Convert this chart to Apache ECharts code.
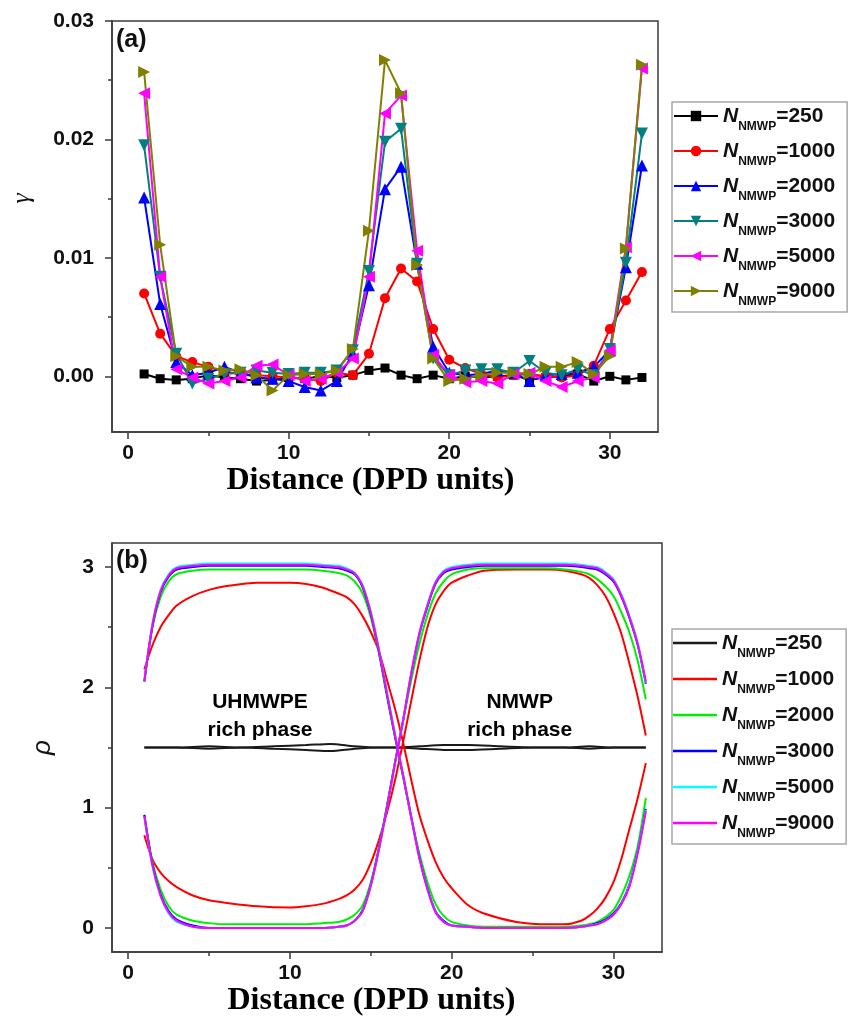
<!DOCTYPE html>
<html>
<head>
<meta charset="utf-8">
<script src="https://cdn.jsdelivr.net/npm/echarts@6/dist/echarts.min.js"></script>
<style>
  html, body { margin: 0; padding: 0; background: #ffffff; }
  #chart { width: 854px; height: 1019px; }
</style>
</head>
<body>
<div id="chart"></div>
<script>
// ---------- (a) order parameter gamma vs distance ----------
const distA = [1, 2, 3, 4, 5, 6, 7, 8, 9, 10, 11, 12, 13, 14, 15, 16, 17, 18, 19, 20, 21, 22, 23, 24, 25, 26, 27, 28, 29, 30, 31, 32];
const gamma250  = [0.0002, -0.0002, -0.0003, -0.0002, 0.0001, -0.0001, -0.0002, -0.0004, -0.0003, -0.0001, -0.0002, 0.0000, -0.0001, 0.0001, 0.0005, 0.0007, 0.0001, -0.0002, 0.0001, -0.0002, 0.0000, -0.0001, 0.0000, 0.0001, -0.0003, -0.0001, 0.0000, 0.0002, -0.0004, 0.0000, -0.0003, -0.0001];
const gamma1000 = [0.0070, 0.0036, 0.0017, 0.0012, 0.0008, 0.0004, 0.0002, 0.0001, 0.0000, -0.0001, -0.0002, -0.0004, 0.0003, 0.0001, 0.0019, 0.0066, 0.0091, 0.0080, 0.0040, 0.0014, 0.0007, 0.0002, -0.0001, 0.0001, 0.0002, 0.0000, -0.0001, 0.0001, 0.0009, 0.0040, 0.0064, 0.0088];
const gamma2000 = [0.0151, 0.0061, 0.0012, 0.0001, 0.0003, 0.0008, 0.0003, -0.0001, -0.0002, -0.0004, -0.0009, -0.0012, -0.0004, 0.0019, 0.0077, 0.0158, 0.0177, 0.0095, 0.0025, 0.0003, 0.0001, 0.0002, 0.0005, 0.0003, -0.0004, 0.0001, 0.0002, 0.0003, 0.0008, 0.0022, 0.0092, 0.0178];
const gamma3000 = [0.0195, 0.0084, 0.0019, -0.0006, -0.0002, 0.0002, 0.0003, 0.0005, 0.0003, 0.0002, 0.0003, 0.0003, 0.0005, 0.0022, 0.0089, 0.0198, 0.0209, 0.0095, 0.0015, 0.0001, 0.0005, 0.0006, 0.0006, 0.0003, 0.0013, 0.0003, 0.0001, 0.0006, 0.0001, 0.0023, 0.0096, 0.0205];
const gamma5000 = [0.0239, 0.0084, 0.0006, -0.0001, -0.0006, -0.0004, -0.0001, 0.0009, 0.0010, 0.0001, -0.0004, -0.0002, 0.0003, 0.0015, 0.0084, 0.0222, 0.0237, 0.0106, 0.0018, 0.0001, -0.0005, -0.0004, -0.0006, 0.0002, 0.0003, -0.0004, -0.0009, -0.0004, -0.0001, 0.0022, 0.0109, 0.0260];
const gamma9000 = [0.0257, 0.0111, 0.0017, 0.0008, 0.0008, 0.0005, 0.0006, 0.0001, -0.0012, 0.0001, 0.0002, 0.0002, 0.0005, 0.0023, 0.0123, 0.0267, 0.0239, 0.0094, 0.0015, -0.0004, -0.0002, 0.0001, 0.0003, 0.0003, 0.0002, 0.0008, 0.0008, 0.0012, 0.0002, 0.0017, 0.0108, 0.0263];

// ---------- (b) density profiles rho vs distance ----------
// U = UHMWPE-rich on the left, N = NMWP-rich on the right
const distB = [1, 1.5, 2, 2.5, 3, 4, 5, 6, 8, 10, 11, 12, 13, 13.5, 14, 14.5, 15, 15.5, 16, 16.5, 17, 17.5, 18, 18.5, 19, 19.5, 20, 21, 22, 24, 26, 27, 28, 28.5, 29, 29.5, 30, 30.5, 31, 31.5, 32];
const rho1000U = [2.15, 2.35, 2.50, 2.60, 2.68, 2.76, 2.81, 2.84, 2.87, 2.87, 2.86, 2.83, 2.78, 2.75, 2.69, 2.59, 2.46, 2.30, 2.06, 1.82, 1.54, 1.23, 0.94, 0.73, 0.55, 0.42, 0.33, 0.19, 0.12, 0.05, 0.03, 0.03, 0.06, 0.10, 0.16, 0.25, 0.38, 0.58, 0.83, 1.08, 1.37];
const rho1000N = [0.77, 0.57, 0.46, 0.39, 0.34, 0.27, 0.23, 0.21, 0.18, 0.17, 0.18, 0.20, 0.24, 0.27, 0.32, 0.40, 0.54, 0.73, 0.96, 1.23, 1.55, 1.89, 2.22, 2.50, 2.69, 2.80, 2.87, 2.93, 2.97, 2.98, 2.98, 2.97, 2.94, 2.91, 2.85, 2.76, 2.62, 2.44, 2.19, 1.92, 1.60];
const rho2000U = [2.05, 2.50, 2.75, 2.88, 2.94, 2.97, 2.98, 2.98, 2.98, 2.98, 2.98, 2.97, 2.95, 2.93, 2.88, 2.78, 2.58, 2.28, 1.92, 1.58, 1.25, 0.92, 0.62, 0.38, 0.20, 0.10, 0.05, 0.02, 0.01, 0.01, 0.01, 0.01, 0.02, 0.03, 0.05, 0.09, 0.15, 0.27, 0.44, 0.68, 1.08];
const rho2000N = [0.94, 0.55, 0.32, 0.18, 0.11, 0.06, 0.04, 0.03, 0.03, 0.03, 0.03, 0.04, 0.05, 0.07, 0.11, 0.19, 0.38, 0.67, 1.02, 1.38, 1.72, 2.06, 2.36, 2.60, 2.78, 2.88, 2.94, 2.98, 2.99, 2.99, 2.99, 2.98, 2.96, 2.94, 2.90, 2.84, 2.76, 2.62, 2.45, 2.22, 1.90];
const rho3000U = [2.05, 2.51, 2.79, 2.92, 2.98, 3.00, 3.01, 3.01, 3.01, 3.01, 3.01, 3.00, 2.99, 2.97, 2.94, 2.83, 2.61, 2.30, 1.94, 1.59, 1.26, 0.92, 0.59, 0.33, 0.14, 0.06, 0.02, 0.01, 0.00, 0.00, 0.00, 0.00, 0.01, 0.02, 0.04, 0.07, 0.12, 0.21, 0.37, 0.64, 0.99];
const rho3000N = [0.94, 0.53, 0.28, 0.14, 0.07, 0.02, 0.00, 0.00, 0.00, 0.00, 0.00, 0.00, 0.01, 0.02, 0.06, 0.15, 0.36, 0.66, 1.01, 1.38, 1.73, 2.11, 2.44, 2.67, 2.86, 2.95, 2.98, 3.00, 3.01, 3.01, 3.01, 3.01, 3.00, 2.99, 2.98, 2.94, 2.88, 2.75, 2.57, 2.35, 2.03];
const rho5000U = [2.06, 2.53, 2.81, 2.94, 3.00, 3.02, 3.03, 3.03, 3.03, 3.03, 3.03, 3.02, 3.01, 2.99, 2.95, 2.85, 2.63, 2.32, 1.96, 1.61, 1.27, 0.92, 0.58, 0.32, 0.13, 0.05, 0.02, 0.01, 0.00, 0.00, 0.00, 0.00, 0.01, 0.02, 0.03, 0.06, 0.11, 0.20, 0.36, 0.63, 0.98];
const rho5000N = [0.92, 0.51, 0.26, 0.12, 0.05, 0.01, 0.00, 0.00, 0.00, 0.00, 0.00, 0.00, 0.01, 0.02, 0.06, 0.14, 0.35, 0.65, 1.00, 1.37, 1.73, 2.12, 2.45, 2.69, 2.88, 2.97, 3.00, 3.02, 3.03, 3.03, 3.03, 3.03, 3.02, 3.01, 3.00, 2.96, 2.90, 2.77, 2.59, 2.37, 2.04];
const rho9000U = [2.05, 2.52, 2.80, 2.93, 2.99, 3.01, 3.02, 3.02, 3.02, 3.02, 3.02, 3.01, 3.00, 2.98, 2.95, 2.84, 2.62, 2.31, 1.95, 1.60, 1.27, 0.92, 0.58, 0.32, 0.13, 0.05, 0.02, 0.01, 0.00, 0.00, 0.00, 0.00, 0.01, 0.02, 0.03, 0.06, 0.11, 0.20, 0.35, 0.62, 0.97];
const rho9000N = [0.93, 0.52, 0.27, 0.13, 0.06, 0.01, 0.00, 0.00, 0.00, 0.00, 0.00, 0.00, 0.01, 0.02, 0.06, 0.14, 0.35, 0.65, 1.00, 1.37, 1.73, 2.12, 2.45, 2.68, 2.87, 2.96, 2.99, 3.01, 3.02, 3.02, 3.02, 3.02, 3.01, 3.00, 2.99, 2.95, 2.89, 2.76, 2.58, 2.36, 2.05];
// N = 250 stays mixed: two nearly flat profiles around 1.5
const dist250 = [1, 3, 5, 7, 9, 11, 12.5, 14, 15.5, 16.7, 18, 19.5, 21, 23, 25, 27, 28.5, 30, 31, 32];
const rho250U = [1.50, 1.50, 1.51, 1.50, 1.51, 1.52, 1.53, 1.51, 1.50, 1.50, 1.51, 1.52, 1.52, 1.51, 1.50, 1.50, 1.51, 1.50, 1.50, 1.50];
const rho250N = [1.50, 1.50, 1.49, 1.50, 1.49, 1.48, 1.47, 1.49, 1.50, 1.50, 1.49, 1.48, 1.48, 1.49, 1.50, 1.50, 1.49, 1.50, 1.50, 1.50];

// ---------- tick values ----------
const ticksX = [0, 10, 20, 30];
const minorX = [5, 15, 25];
const ticksGamma = [0, 0.01, 0.02, 0.03];
const minorGamma = [0.005, 0.015, 0.025];
const ticksRho = [0, 1, 2, 3];
const minorRho = [0.5, 1.5, 2.5];

// ---------- phase labels in panel (b) ----------
const phaseLabels = [
  { x: 8.15, y: 1.76, text: 'UHMWPE\nrich phase' },
  { x: 24.2, y: 1.76, text: 'NMWP\nrich phase' }
];

const SANS = '"Liberation Sans", Arial, Helvetica, sans-serif';
const SERIF = '"Liberation Serif", "Times New Roman", serif';
const AXIS_COLOR = '#3a3a3a';

function pts(xs, ys) { return xs.map((x, i) => [x, ys[i]]); }

const styleA = [
  { n: '250',  ys: gamma250,  color: '#000000', symbol: 'rect',     size: 9,  rot: 0 },
  { n: '1000', ys: gamma1000, color: '#ff0000', symbol: 'circle',   size: 10, rot: 0 },
  { n: '2000', ys: gamma2000, color: '#0000ff', symbol: 'triangle', size: 12, rot: 0 },
  { n: '3000', ys: gamma3000, color: '#008080', symbol: 'triangle', size: 12, rot: 180 },
  { n: '5000', ys: gamma5000, color: '#ff00ff', symbol: 'triangle', size: 12, rot: 90 },
  { n: '9000', ys: gamma9000, color: '#808000', symbol: 'triangle', size: 12, rot: -90 }
];

const styleB = [
  { n: '250',  xs: dist250, u: rho250U,  v: rho250N,  color: '#1a1a1a' },
  { n: '1000', xs: distB,   u: rho1000U, v: rho1000N, color: '#ff0000' },
  { n: '2000', xs: distB,   u: rho2000U, v: rho2000N, color: '#00ee00' },
  { n: '3000', xs: distB,   u: rho3000U, v: rho3000N, color: '#0000ff' },
  { n: '5000', xs: distB,   u: rho5000U, v: rho5000N, color: '#00ffff' },
  { n: '9000', xs: distB,   u: rho9000U, v: rho9000N, color: '#ff00ff' }
];

const series = [];
styleA.forEach(s => {
  series.push({
    name: 'g-' + s.n, type: 'line', xAxisIndex: 0, yAxisIndex: 0,
    data: pts(distA, s.ys),
    symbol: s.symbol, symbolSize: s.size, symbolRotate: s.rot,
    lineStyle: { color: s.color, width: 2 },
    itemStyle: { color: s.color },
    silent: true, animation: false
  });
});
styleB.forEach(s => {
  [s.u, s.v].forEach(ys => {
    series.push({
      name: 'r-' + s.n, type: 'line', xAxisIndex: 2, yAxisIndex: 2,
      data: pts(s.xs, ys),
      symbol: 'none', smooth: 0.3,
      lineStyle: { color: s.color, width: 2 },
      itemStyle: { color: s.color },
      silent: true, animation: false
    });
  });
});
series.push({
  type: 'scatter', xAxisIndex: 2, yAxisIndex: 2,
  data: phaseLabels.map(p => ({ value: [p.x, p.y], label: { formatter: p.text } })),
  symbolSize: 0, silent: true, animation: false,
  itemStyle: { opacity: 1 },
  label: {
    show: true, position: 'inside', color: '#000000', opacity: 1, fontFamily: SANS,
    fontWeight: 'bold', fontSize: 21, lineHeight: 28, align: 'center'
  }
});

const legendRich = {
  n: { fontFamily: SANS, fontSize: 21, fontStyle: 'italic', fontWeight: 'bold', color: '#111', lineHeight: 24 },
  s: { fontFamily: SANS, fontSize: 12, fontWeight: 'bold', color: '#111', lineHeight: 13, padding: [17, 0, 0, 0], verticalAlign: 'top' },
  v: { fontFamily: SANS, fontSize: 21, fontWeight: 'bold', color: '#111', lineHeight: 24 }
};
const legendFormatter = name => '{n|N}{s|NMWP}{v|=' + name.split('-')[1] + '}';

function mainX(grid, name, padRight) {
  return {
    type: 'value', gridIndex: grid, min: -1, max: 33, position: 'bottom',
    axisLine: { show: true, onZero: false, lineStyle: { color: AXIS_COLOR, width: 1.5 } },
    axisTick: { show: true, inside: false, length: 7, customValues: ticksX, lineStyle: { color: AXIS_COLOR, width: 1.5 } },
    axisLabel: { show: true, customValues: ticksX, margin: 11, fontFamily: SANS, fontWeight: 'bold', fontSize: 21, color: '#111' },
    splitLine: { show: false },
    name: name, nameLocation: 'middle', nameGap: 33,
    nameTextStyle: { fontFamily: SERIF, fontWeight: 'bold', fontSize: 32, color: '#000', padding: [0, padRight, 0, 0] }
  };
}
function minorXAxis(grid) {
  return {
    type: 'value', gridIndex: grid, min: -1, max: 33, position: 'bottom',
    axisLine: { show: false, onZero: false },
    axisTick: { show: true, inside: false, length: 4, customValues: minorX, lineStyle: { color: AXIS_COLOR, width: 1.5 } },
    axisLabel: { show: false }, splitLine: { show: false }
  };
}
function minorYAxis(grid, min, max, vals) {
  return {
    type: 'value', gridIndex: grid, min: min, max: max, position: 'left',
    axisLine: { show: false, onZero: false },
    axisTick: { show: true, inside: false, length: 4, customValues: vals, lineStyle: { color: AXIS_COLOR, width: 1.5 } },
    axisLabel: { show: false }, splitLine: { show: false }
  };
}

const option = {
  backgroundColor: '#ffffff',
  animation: false,
  grid: [
    { left: 112, top: 21, width: 546, height: 411, show: true, borderColor: AXIS_COLOR, borderWidth: 1.5, backgroundColor: 'transparent' },
    { left: 112, top: 543, width: 550, height: 409, show: true, borderColor: AXIS_COLOR, borderWidth: 1.5, backgroundColor: 'transparent' }
  ],
  xAxis: [
    mainX(0, 'Distance (DPD units)', 29),
    minorXAxis(0),
    mainX(1, 'Distance (DPD units)', 31),
    minorXAxis(1)
  ],
  yAxis: [
    {
      type: 'value', gridIndex: 0, min: -0.0047, max: 0.03, position: 'left',
      axisLine: { show: true, onZero: false, lineStyle: { color: AXIS_COLOR, width: 1.5 } },
      axisTick: { show: true, inside: false, length: 7, customValues: ticksGamma, lineStyle: { color: AXIS_COLOR, width: 1.5 } },
      axisLabel: { show: true, customValues: ticksGamma, margin: 18, formatter: v => v.toFixed(2), fontFamily: SANS, fontWeight: 'bold', fontSize: 21, color: '#111' },
      splitLine: { show: false },
      name: 'γ', nameLocation: 'middle', nameGap: 77, nameRotate: 90,
      nameTextStyle: { fontFamily: SERIF, fontStyle: 'italic', fontSize: 26, color: '#111', padding: [0, 0, 0, 56] }
    },
    minorYAxis(0, -0.0047, 0.03, minorGamma),
    {
      type: 'value', gridIndex: 1, min: -0.2, max: 3.2, position: 'left',
      axisLine: { show: true, onZero: false, lineStyle: { color: AXIS_COLOR, width: 1.5 } },
      axisTick: { show: true, inside: false, length: 7, customValues: ticksRho, lineStyle: { color: AXIS_COLOR, width: 1.5 } },
      axisLabel: { show: true, customValues: ticksRho, margin: 18, fontFamily: SANS, fontWeight: 'bold', fontSize: 21, color: '#111' },
      splitLine: { show: false },
      name: 'ρ', nameLocation: 'middle', nameGap: 56, nameRotate: 90,
      nameTextStyle: { fontFamily: SANS, fontStyle: 'italic', fontSize: 26, color: '#111' }
    },
    minorYAxis(1, -0.2, 3.2, minorRho)
  ],
  legend: [
    {
      data: styleA.map(s => 'g-' + s.n),
      orient: 'vertical', left: 672, top: 102,
      itemWidth: 44, itemHeight: 13, itemGap: 6,
      padding: [2, 12, 4, 1],
      borderColor: '#a8a8a8', borderWidth: 1.5, backgroundColor: '#ffffff',
      formatter: legendFormatter,
      textStyle: { rich: legendRich },
      selectedMode: false
    },
    {
      data: styleB.map(s => 'r-' + s.n),
      orient: 'vertical', left: 672, top: 629,
      itemWidth: 44, itemHeight: 2.5, icon: 'rect', itemGap: 7,
      padding: [2, 12, 4, 1],
      borderColor: '#a8a8a8', borderWidth: 1.5, backgroundColor: '#ffffff',
      formatter: legendFormatter,
      textStyle: { rich: legendRich },
      selectedMode: false
    }
  ],
  graphic: [
    { type: 'text', x: 116, y: 40, silent: true, style: { text: '(a)', fontFamily: SANS, fontWeight: 'bold', fontSize: 25, fill: '#111', verticalAlign: 'middle' } },
    { type: 'text', x: 116, y: 561, silent: true, style: { text: '(b)', fontFamily: SANS, fontWeight: 'bold', fontSize: 25, fill: '#111', verticalAlign: 'middle' } }
  ],
  series: series
};

const chart = echarts.init(document.getElementById('chart'), null, { renderer: 'canvas' });
chart.setOption(option);
</script>
</body>
</html>
